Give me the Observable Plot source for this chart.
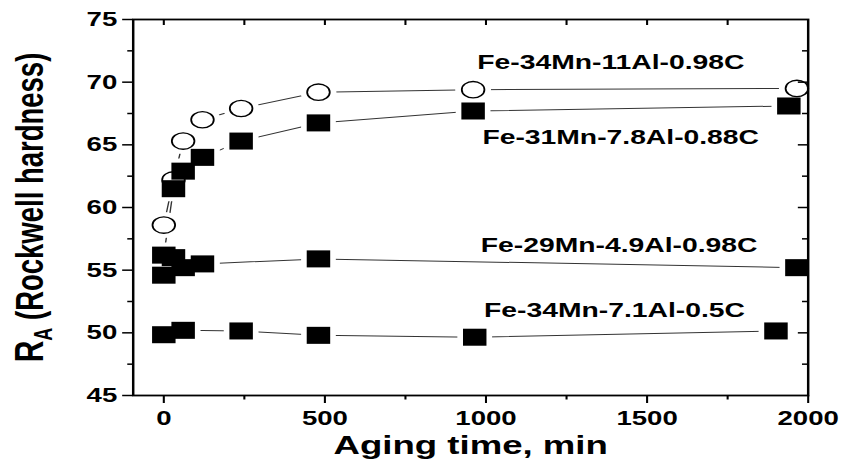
<!DOCTYPE html>
<html>
<head>
<meta charset="utf-8">
<script src="https://cdn.jsdelivr.net/npm/d3@7"></script>
<script src="https://cdn.jsdelivr.net/npm/@observablehq/plot@0.6"></script>
<style>
  html, body { margin: 0; padding: 0; background: #fff; overflow: hidden; }
</style>
</head>
<body>
<div id="chart"></div>
<script>
// ---- data ----
const seriesNames = ["Fe-34Mn-11Al-0.98C", "Fe-31Mn-7.8Al-0.88C", "Fe-29Mn-4.9Al-0.98C", "Fe-34Mn-7.1Al-0.5C"];
const timeA = [0, 30, 60, 120, 240, 480, 960, 1965];
const hardA = [58.6, 62.2, 65.3, 67.0, 67.9, 69.2, 69.4, 69.5];
const timeB = [0, 30, 60, 120, 240, 480, 960, 1940];
const hardB = [56.2, 61.5, 62.9, 64.0, 65.3, 66.75, 67.7, 68.1];
const timeC = [0, 30, 60, 120, 480, 1965];
const hardC = [54.6, 56.0, 55.2, 55.5, 55.9, 55.2];
const timeD = [0, 60, 240, 480, 965, 1900];
const hardD = [49.85, 50.2, 50.15, 49.8, 49.65, 50.15];
const openMarker = [true, false, false, false];

const xTicks = [0, 500, 1000, 1500, 2000];
const xMinorTicks = [250, 750, 1250, 1750];
const yTicks = [45, 50, 55, 60, 65, 70, 75];
const yMinorTicks = [47.5, 52.5, 57.5, 62.5, 67.5, 72.5];

// label anchors (data units)
const labelTime = [973, 989, 984, 994];
const labelHard = [71.07, 65.08, 56.44, 51.26];

const xTitle = "Aging time, min";
const yTitleParts = ["R", "A", " (Rockwell hardness)"];

// ---- layout (drawn in a narrower space, then stretched horizontally like the reference) ----
const OUT_W = 842, H = 468, W0 = 610;
const ml = 96, mr = 25, mt = 19, mb = 73;
const plotW = W0 - ml - mr, plotH = H - mt - mb;

const seriesTimes = [timeA, timeB, timeC, timeD];
const seriesHard = [hardA, hardB, hardC, hardD];
const rows = seriesNames.flatMap((s, i) =>
  seriesTimes[i].map((t, j) => ({series: s, time: t, hard: seriesHard[i][j], open: openMarker[i]})));
const circles = rows.filter(d => d.open);
const squares = rows.filter(d => !d.open);
const labels = seriesNames.map((s, i) => ({text: s, time: labelTime[i], hard: labelHard[i]}));
const yTitle = yTitleParts.join("");

const chart = Plot.plot({
  width: W0, height: H,
  marginLeft: ml, marginRight: mr, marginTop: mt, marginBottom: mb,
  style: {fontFamily: "'Liberation Sans', Arial, Helvetica, sans-serif", background: "white", color: "black"},
  x: {domain: [-95, 2000], label: null},
  y: {domain: [45, 75], label: null},
  marks: [
    Plot.line(rows, {x: "time", y: "hard", z: "series", stroke: "#333", strokeWidth: 1}),
    Plot.dot(circles, {x: "time", y: "hard", r: 13, fill: "white", stroke: "none"}),
    Plot.dot(squares, {x: "time", y: "hard", symbol: "square", r: 14.2, fill: "white", stroke: "none"}),
    Plot.dot(circles, {x: "time", y: "hard", r: 8.2, fill: "none", stroke: "black", strokeWidth: 1.3}),
    Plot.dot(squares, {x: "time", y: "hard", symbol: "square", r: 9.6, fill: "black", stroke: "none"}),
    Plot.frame({stroke: "black", strokeWidth: 1.8}),
    Plot.axisX({ticks: xTicks, tickSize: 8, tickPadding: 7, tickFormat: d => String(d), fontSize: 20, fontWeight: "bold", strokeWidth: 1.5, label: null}),
    Plot.axisX({ticks: xMinorTicks, tickSize: 4.5, fill: "none", strokeWidth: 1.5, label: null}),
    Plot.axisY({ticks: yTicks, tickSize: 7.5, tickPadding: 4, tickFormat: d => String(d), fontSize: 20, fontWeight: "bold", strokeWidth: 1.5, label: null}),
    Plot.axisY({ticks: yMinorTicks, tickSize: 3.8, fill: "none", strokeWidth: 1.5, label: null}),
    Plot.tickX(xTicks.slice(0, -1).concat(xMinorTicks), {x: d => d, insetBottom: plotH - 6, strokeWidth: 1.5}),
    Plot.tickY(yTicks.slice(1, -1), {y: d => d, insetLeft: plotW - 7, strokeWidth: 1.5}),
    Plot.tickY(yMinorTicks, {y: d => d, insetLeft: plotW - 4, strokeWidth: 1.5}),
    Plot.text(labels, {x: "time", y: "hard", text: "text", textAnchor: "start", lineAnchor: "bottom", fontSize: 20.5, fontWeight: "bold"}),
    Plot.text([xTitle], {text: d => d, frameAnchor: "bottom", textAnchor: "middle", dy: 58, lineAnchor: "bottom", fontSize: 26.5, fontWeight: "bold"}),
    Plot.text([yTitle], {text: d => d, frameAnchor: "left", textAnchor: "middle", dx: -(ml - 30.5), rotate: -90, lineAnchor: "bottom", fontSize: 27.5, fontWeight: "bold"})
  ]
});

// stretch horizontally to the reference proportions
chart.setAttribute("width", OUT_W);
chart.setAttribute("height", H);
chart.setAttribute("preserveAspectRatio", "none");
chart.style.width = OUT_W + "px";
chart.style.height = H + "px";
chart.style.maxWidth = "none";

// y title with subscript
d3.select(chart).selectAll("text")
  .filter(function () { return this.textContent === yTitle; })
  .each(function () {
    const t = d3.select(this);
    t.text(null);
    t.append("tspan").attr("font-size", 30).text(yTitleParts[0]);
    t.append("tspan").attr("font-size", 18).attr("dy", 7).text(yTitleParts[1]);
    t.append("tspan").attr("dy", -7).text(yTitleParts[2]);
  });

document.getElementById("chart").appendChild(chart);
</script>
</body>
</html>
